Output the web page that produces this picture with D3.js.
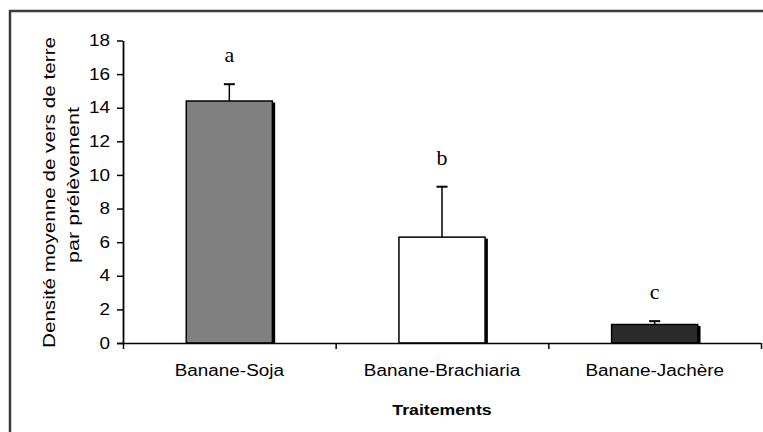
<!DOCTYPE html>
<html>
<head>
<meta charset="utf-8">
<script src="https://cdn.jsdelivr.net/npm/d3@7"></script>
<style>
  body { margin: 0; background: #fff; }
  svg { display: block; }
</style>
</head>
<body>
<svg></svg>
<script>
// data
const categories = ["Banane-Soja", "Banane-Brachiaria", "Banane-Jachère"];
const means = [14.4, 6.3, 1.1];
const errors = [1.0, 3.0, 0.2];
const letters = ["a", "b", "c"];
const fills = ["#808080", "#ffffff", "#2b2b2b"];
const yTicks = [0, 2, 4, 6, 8, 10, 12, 14, 16, 18];

const width = 763;
const height = 432;
const stretch = 1.18; // the original picture is a bit wider than its fonts

const svg = d3.select("svg")
  .attr("width", width)
  .attr("height", height);

svg.append("rect")
  .attr("width", width).attr("height", height)
  .attr("fill", "#fff");

// outer frame (right and bottom edges fall outside the picture)
svg.append("rect")
  .attr("x", 10).attr("y", 11)
  .attr("width", 820).attr("height", 520)
  .attr("fill", "none")
  .attr("stroke", "#3c3c3c")
  .attr("stroke-width", 2.5);

const plotLeft = 123, plotRight = 761, plotTop = 40.5, plotBottom = 343;

const x = d3.scaleBand()
  .domain(categories)
  .range([plotLeft, plotRight])
  .paddingInner(0.595)
  .paddingOuter(0.2975);

const xEdges = d3.scaleLinear()
  .domain([0, categories.length])
  .range([plotLeft, plotRight]);

const y = d3.scaleLinear()
  .domain([0, 18])
  .range([plotBottom, plotTop]);

// bars
const bars = svg.selectAll(".bar")
  .data(categories)
  .enter().append("g")
  .attr("class", "bar");

bars.append("rect")
  .attr("x", d => x(d))
  .attr("y", (d, i) => y(means[i]))
  .attr("width", x.bandwidth())
  .attr("height", (d, i) => plotBottom - y(means[i]))
  .attr("fill", (d, i) => fills[i])
  .attr("stroke", "#000")
  .attr("stroke-width", 1.5);

// dark shadow on the right side of each bar
bars.append("rect")
  .attr("x", d => x(d) + x.bandwidth())
  .attr("y", (d, i) => y(means[i]) + 1.5)
  .attr("width", 2.8)
  .attr("height", (d, i) => plotBottom - y(means[i]) - 1.5)
  .attr("fill", "#000");

// error bars (upper half only)
bars.append("line")
  .attr("x1", d => x(d) + x.bandwidth() / 2)
  .attr("x2", d => x(d) + x.bandwidth() / 2)
  .attr("y1", (d, i) => y(means[i]))
  .attr("y2", (d, i) => y(means[i] + errors[i]))
  .attr("stroke", "#000")
  .attr("stroke-width", 1.5);

bars.append("line")
  .attr("x1", d => x(d) + x.bandwidth() / 2 - 5.5)
  .attr("x2", d => x(d) + x.bandwidth() / 2 + 5.5)
  .attr("y1", (d, i) => y(means[i] + errors[i]))
  .attr("y2", (d, i) => y(means[i] + errors[i]))
  .attr("stroke", "#000")
  .attr("stroke-width", 2);

// significance letters
bars.append("text")
  .attr("x", d => x(d) + x.bandwidth() / 2)
  .attr("y", (d, i) => y(means[i] + errors[i]) - 22)
  .attr("text-anchor", "middle")
  .attr("font-family", "Liberation Serif, Times New Roman, serif")
  .attr("font-size", 22)
  .attr("fill", "#000")
  .text((d, i) => letters[i]);

// y axis
const yAxis = svg.append("g")
  .attr("transform", `translate(${plotLeft},0)`)
  .call(d3.axisLeft(y).tickValues(yTicks).tickSize(6).tickSizeOuter(0).tickPadding(7));
yAxis.select(".domain").attr("stroke", "#000").attr("stroke-width", 1.8);
yAxis.selectAll(".tick line").attr("stroke", "#000").attr("stroke-width", 1.5);
yAxis.selectAll("text")
  .attr("font-family", "Liberation Sans, Arial, sans-serif")
  .attr("font-size", 16)
  .attr("fill", "#000");

// x axis: line with boundary ticks, then category labels
const xAxis = svg.append("g")
  .attr("transform", `translate(0,${plotBottom})`)
  .call(d3.axisBottom(xEdges).tickValues(d3.range(categories.length + 1)).tickFormat("").tickSize(6).tickSizeOuter(0));
xAxis.select(".domain").attr("stroke", "#000").attr("stroke-width", 1.5)
  .attr("d", `M${plotLeft - 6},0.5H${plotRight}`);
xAxis.selectAll(".tick line").attr("stroke", "#000").attr("stroke-width", 1.5);

const xLabels = svg.append("g")
  .attr("transform", `translate(0,${plotBottom})`)
  .call(d3.axisBottom(x).tickSize(0).tickPadding(22));
xLabels.select(".domain").remove();
xLabels.selectAll("text")
  .attr("font-family", "Liberation Sans, Arial, sans-serif")
  .attr("font-size", 16)
  .attr("fill", "#000");

// axis titles
svg.append("text")
  .attr("x", (plotLeft + plotRight) / 2)
  .attr("y", 415)
  .attr("text-anchor", "middle")
  .attr("font-family", "Liberation Sans, Arial, sans-serif")
  .attr("font-size", 15)
  .attr("font-weight", "bold")
  .attr("fill", "#000")
  .attr("class", "wide")
  .text("Traitements");

const yTitle = svg.append("g")
  .attr("font-family", "Liberation Sans, Arial, sans-serif")
  .attr("font-size", 16)
  .attr("fill", "#000")
  .attr("text-anchor", "middle");
yTitle.append("text")
  .attr("transform", "translate(55,192.5) rotate(-90)")
  .attr("textLength", 311)
  .attr("lengthAdjust", "spacingAndGlyphs")
  .text("Densité moyenne de vers de terre");
yTitle.append("text")
  .attr("transform", "translate(79,185) rotate(-90)")
  .attr("textLength", 156)
  .attr("lengthAdjust", "spacingAndGlyphs")
  .text("par prélèvement");

// widen horizontal texts to the picture's proportions
svg.selectAll(".tick text, text.wide").each(function () {
  const t = d3.select(this);
  if (t.text() === "") return;
  const w = this.getComputedTextLength();
  t.attr("textLength", w * stretch).attr("lengthAdjust", "spacingAndGlyphs");
});
</script>
</body>
</html>
